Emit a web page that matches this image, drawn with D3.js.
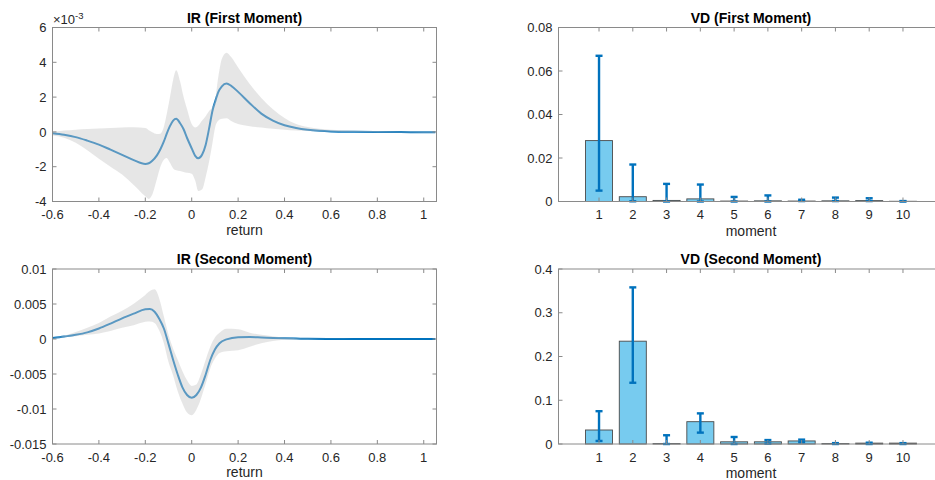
<!DOCTYPE html>
<html>
<head>
<meta charset="utf-8">
<script src="https://cdn.jsdelivr.net/npm/d3@7"></script>
<style>
  html, body { margin: 0; padding: 0; background: #fff; }
  svg { display: block; font-family: "Liberation Sans", Arial, Helvetica, sans-serif; }
</style>
</head>
<body>
<svg id="chart" width="935" height="480"></svg>
<script>
// ---- Impulse response, first moment (values in units of 1e-3) ----
const ir1Return = [-0.6,-0.55,-0.5,-0.45,-0.4,-0.35,-0.3,-0.25,-0.2,-0.185,-0.17,-0.15,-0.135,-0.12,-0.108,-0.095,-0.08,-0.067,-0.05,-0.035,-0.02,0,0.015,0.028,0.045,0.06,0.075,0.09,0.1,0.115,0.13,0.15,0.17,0.2,0.25,0.3,0.35,0.4,0.45,0.5,0.55,0.6,0.7,0.8,0.9,1.0,1.05];
const ir1Mean  = [-0.08,-0.17,-0.3,-0.5,-0.73,-1.02,-1.32,-1.62,-1.84,-1.8,-1.66,-1.35,-1.0,-0.55,-0.12,0.3,0.65,0.75,0.5,0.15,-0.35,-0.95,-1.38,-1.52,-1.3,-0.75,0.2,1.25,1.7,2.3,2.62,2.78,2.65,2.3,1.65,1.05,0.65,0.38,0.22,0.12,0.06,0.03,0.01,0,-0.01,-0.02,-0.02];
const ir1Upper = [0,0.08,0.13,0.17,0.2,0.22,0.25,0.27,0.22,0.1,-0.02,-0.12,-0.1,0.3,1.0,1.9,3.0,3.55,2.9,2.0,1.3,0.45,0.25,0.35,0.65,0.9,1.2,1.45,1.8,3.2,4.2,4.55,4.3,3.7,2.75,1.95,1.3,0.8,0.45,0.28,0.18,0.12,0.07,0.05,0.03,0.02,0.02];
const ir1Lower = [-0.2,-0.33,-0.62,-1.05,-1.55,-2.0,-2.45,-3.05,-3.7,-3.85,-3.6,-2.7,-2.0,-1.6,-1.5,-1.75,-2.1,-2.2,-2.25,-2.3,-2.35,-2.4,-2.8,-3.4,-3.3,-2.6,-1.7,-0.6,0.2,0.65,0.75,0.78,0.62,0.45,0.33,0.25,0.18,0.12,0.08,0.05,0.03,0.01,-0.01,-0.03,-0.04,-0.05,-0.05];

// ---- Impulse response, second moment (values in units of 1e-3) ----
const ir2Return = [-0.6,-0.55,-0.5,-0.45,-0.4,-0.35,-0.3,-0.25,-0.2,-0.18,-0.16,-0.14,-0.12,-0.1,-0.08,-0.06,-0.04,-0.02,0,0.02,0.04,0.06,0.08,0.1,0.12,0.15,0.2,0.25,0.3,0.35,0.4,0.45,0.5,0.6,0.7,0.8,0.9,1.0,1.05];
const ir2Mean  = [0.14,0.35,0.6,0.95,1.5,2.2,2.95,3.62,4.25,4.3,3.9,2.9,1.5,-0.7,-3.0,-5.1,-6.9,-8.0,-8.4,-8.0,-6.9,-5.1,-3.0,-1.5,-0.6,-0.05,0.25,0.28,0.22,0.15,0.1,0.06,0.03,0.01,0,0,0,0,0];
const ir2Upper = [0.15,0.45,1.0,1.6,2.3,3.2,4.05,5.05,6.3,6.85,7.1,5.8,3.2,0.6,-1.4,-3.0,-4.6,-5.9,-6.7,-6.5,-5.0,-3.0,-1.1,0.2,0.9,1.45,1.4,0.9,0.6,0.38,0.2,0.12,0.08,0.03,0.01,0,0,0,0];
const ir2Lower = [0.12,0.25,0.4,0.6,0.8,1.15,1.6,1.95,2.45,2.5,2.3,1.2,-0.6,-3.3,-5.2,-7.5,-9.2,-10.5,-10.9,-10.1,-8.5,-6.4,-4.2,-2.8,-2.0,-1.75,-1.6,-1.1,-0.6,-0.3,-0.12,-0.06,-0.03,-0.01,0,0,0,0,0];

// ---- Variance decomposition ----
const moments = [1,2,3,4,5,6,7,8,9,10];
const vd1Value = [0.028,0.0022,0.0005,0.0012,0.0002,0.0003,0.0002,0.0003,0.0004,0.0001];
const vd1Low   = [0.005,0.0001,0,0,0,0,0.0002,0.0002,0.0002,0];
const vd1High  = [0.067,0.017,0.0081,0.0078,0.0021,0.0028,0.0008,0.0018,0.0015,0.0002];
const vd2Value = [0.032,0.235,0.001,0.051,0.005,0.005,0.007,0.001,0.002,0.002];
const vd2Low   = [0.007,0.14,0,0.026,0,0.001,0.004,0,0,0];
const vd2High  = [0.075,0.358,0.02,0.07,0.016,0.009,0.01,0.002,0.003,0.002];

// ---- Tick values ----
const returnTicks = [-0.6,-0.4,-0.2,0,0.2,0.4,0.6,0.8,1];
const ir1Ticks = [-4,-2,0,2,4,6];
const ir2Ticks = [-0.015,-0.01,-0.005,0,0.005,0.01];
const vd1Ticks = [0,0.02,0.04,0.06,0.08];
const vd2Ticks = [0,0.1,0.2,0.3,0.4];

const svg = d3.select("#chart");
const AXIS_COLOR = "#8a8a8a";
const TEXT_COLOR = "#262626";
const LINE_COLOR = "#0072BD";
const TICK_LEN = 4;

function fmt(v) {
  if (v === 0) return "0";
  return String(+v.toFixed(4));
}

function frame(g, x, y, xTicks, yTicks, opts) {
  const [x0, x1] = x.range();
  const [y0, y1] = y.range(); // y0 bottom, y1 top
  // ticks (inward, mirrored on both sides)
  xTicks.forEach(t => {
    const px = x(t);
    g.append("line").attr("x1", px).attr("x2", px).attr("y1", y0).attr("y2", y0 - TICK_LEN)
      .attr("stroke", AXIS_COLOR).attr("stroke-width", 1);
    g.append("line").attr("x1", px).attr("x2", px).attr("y1", y1).attr("y2", y1 + TICK_LEN)
      .attr("stroke", AXIS_COLOR).attr("stroke-width", 1);
    g.append("text").attr("x", px).attr("y", y0 + 17.5).attr("text-anchor", "middle")
      .attr("font-size", 13).attr("fill", TEXT_COLOR).text(opts.xFmt(t));
  });
  yTicks.forEach(t => {
    const py = y(t);
    g.append("line").attr("x1", x0).attr("x2", x0 + TICK_LEN).attr("y1", py).attr("y2", py)
      .attr("stroke", AXIS_COLOR).attr("stroke-width", 1);
    g.append("line").attr("x1", x1).attr("x2", x1 - TICK_LEN).attr("y1", py).attr("y2", py)
      .attr("stroke", AXIS_COLOR).attr("stroke-width", 1);
    g.append("text").attr("x", x0 - 6).attr("y", py + 4.6).attr("text-anchor", "end")
      .attr("font-size", 13).attr("fill", TEXT_COLOR).text(opts.yFmt(t));
  });
  // box
  g.append("rect").attr("x", x0).attr("y", y1).attr("width", x1 - x0).attr("height", y0 - y1)
    .attr("fill", "none").attr("stroke", AXIS_COLOR).attr("stroke-width", 1);
  // title
  g.append("text").attr("x", (x0 + x1) / 2).attr("y", y1 - 5).attr("text-anchor", "middle")
    .attr("font-size", 14).attr("font-weight", "bold").attr("fill", "#000").text(opts.title);
  // x label
  g.append("text").attr("x", (x0 + x1) / 2).attr("y", y0 + opts.xLabelDy).attr("text-anchor", "middle")
    .attr("font-size", 14).attr("fill", TEXT_COLOR).text(opts.xLabel);
}

function irPanel(box, xs, mean, lo, hi, unit, yDomain, yTicks, title, yFmt) {
  const g = svg.append("g");
  const x = d3.scaleLinear().domain([-0.6, 1.055]).range([box.x0, box.x1]);
  const y = d3.scaleLinear().domain(yDomain).range([box.y0, box.y1]);
  const pts = xs.map((v, i) => ({ r: v, m: mean[i] * unit, lo: lo[i] * unit, hi: hi[i] * unit }));

  const line = d3.line().x(d => x(d.r)).y(d => y(d.m)).curve(d3.curveMonotoneX);
  const area = d3.area().x(d => x(d.r)).y0(d => y(d.lo)).y1(d => y(d.hi)).curve(d3.curveMonotoneX);

  // the mean line sits under a translucent confidence band
  g.append("path").datum(pts).attr("d", line).attr("fill", "none")
    .attr("stroke", LINE_COLOR).attr("stroke-width", 2);
  g.append("path").datum(pts).attr("d", area).attr("fill", "#c8c8c8").attr("fill-opacity", 0.45)
    .attr("stroke", "none");

  frame(g, x, y, returnTicks, yTicks, {
    title, xLabel: "return", xLabelDy: 33,
    xFmt: fmt, yFmt
  });
  return { g, x, y };
}

function vdPanel(box, vals, lows, highs, yDomain, yTicks, title) {
  const g = svg.append("g");
  const x = d3.scaleLinear().domain([-0.2, 11.2]).range([box.x0, box.x1]);
  const y = d3.scaleLinear().domain(yDomain).range([box.y0, box.y1]);
  const bw = x(0.8) - x(0);
  const cap = 3.5;

  g.selectAll("rect.bar").data(moments).join("rect").attr("class", "bar")
    .attr("x", d => x(d) - bw / 2)
    .attr("width", bw)
    .attr("y", (d, i) => y(vals[i]))
    .attr("height", (d, i) => y(0) - y(vals[i]))
    .attr("fill", "#77CBEF").attr("stroke", "#4a4a4a").attr("stroke-width", 0.9);

  const eb = g.selectAll("g.err").data(moments).join("g").attr("class", "err")
    .attr("stroke", LINE_COLOR).attr("stroke-width", 2.4);
  eb.append("line").attr("x1", d => x(d)).attr("x2", d => x(d))
    .attr("y1", (d, i) => y(lows[i])).attr("y2", (d, i) => y(highs[i]));
  eb.append("line").attr("x1", d => x(d) - cap).attr("x2", d => x(d) + cap)
    .attr("y1", (d, i) => y(highs[i])).attr("y2", (d, i) => y(highs[i]));
  eb.append("line").attr("x1", d => x(d) - cap).attr("x2", d => x(d) + cap)
    .attr("y1", (d, i) => y(lows[i])).attr("y2", (d, i) => y(lows[i]));

  frame(g, x, y, moments, yTicks, {
    title, xLabel: "moment", xLabelDy: 34,
    xFmt: d => String(d), yFmt: fmt
  });
}

// top-left
irPanel({ x0: 52.5, x1: 436.5, y0: 201.5, y1: 27.5 }, ir1Return, ir1Mean, ir1Lower, ir1Upper, 1,
  [-4, 6], ir1Ticks, "IR (First Moment)", fmt);
// exponent label for the first-moment axis
const expo = svg.append("text").attr("x", 53).attr("y", 23.5).attr("font-size", 13).attr("fill", TEXT_COLOR);
expo.append("tspan").text("\u00d710");
expo.append("tspan").attr("font-size", 9.5).attr("dy", -5).text("-3");

// bottom-left
irPanel({ x0: 52.5, x1: 436.5, y0: 444, y1: 269 }, ir2Return, ir2Mean, ir2Lower, ir2Upper, 1e-3,
  [-0.015, 0.01], ir2Ticks, "IR (Second Moment)", fmt);

// top-right
vdPanel({ x0: 558.5, x1: 943.5, y0: 201.5, y1: 27.5 }, vd1Value, vd1Low, vd1High,
  [0, 0.08], vd1Ticks, "VD (First Moment)");

// bottom-right
vdPanel({ x0: 558.5, x1: 943.5, y0: 444, y1: 269 }, vd2Value, vd2Low, vd2High,
  [0, 0.4], vd2Ticks, "VD (Second Moment)");
</script>
</body>
</html>
